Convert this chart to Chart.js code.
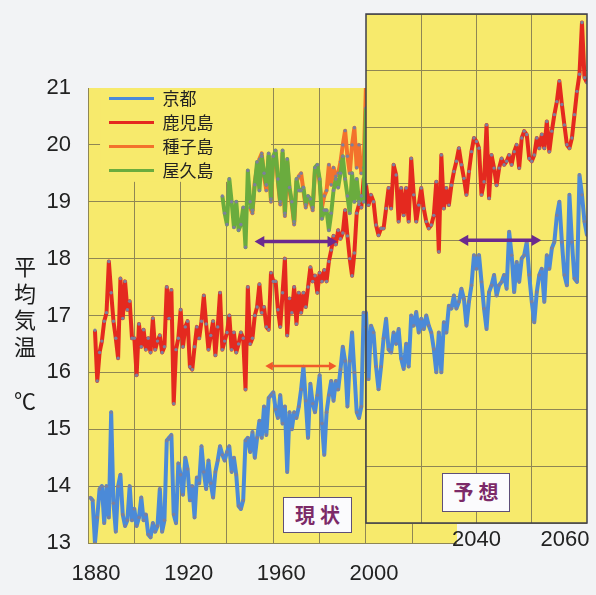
<!DOCTYPE html>
<html lang="ja">
<head>
<meta charset="utf-8">
<title>平均気温の推移</title>
<script src="https://cdn.jsdelivr.net/npm/chart.js@4.4.1/dist/chart.umd.min.js"></script>
<style>
  html, body { margin: 0; padding: 0; background: #f2f3f5; }
  #page { position: relative; width: 596px; height: 595px; overflow: hidden; font-family: 'Noto Sans CJK JP', sans-serif; }
  canvas { position: absolute; left: 0; top: 0; }
  .axis-title { position: absolute; left: 12px; width: 26px; text-align: center; font-size: 22px; line-height: 26.5px; color: #1c1c1c; }
  .tag { position: absolute; box-sizing: border-box; background: #fbfbfd; border: 1.5px solid #5e4f78; color: #7c2a68; font-size: 20px; font-weight: bold; text-align: center; letter-spacing: 5px; padding-left: 5px; }
</style>
</head>
<body>
<div id="page">
  <canvas id="past" width="596" height="595"></canvas>
  <canvas id="future" width="596" height="595"></canvas>
  <div class="axis-title" style="top:252px">平<br>均<br>気<br>温</div>
  <div class="axis-title" style="top:386px">℃</div>
  <div class="tag" style="left:283px;top:497px;width:69px;height:36px;line-height:33px">現状</div>
  <div class="tag" style="left:442px;top:473px;width:68px;height:39px;line-height:36px">予想</div>
</div>
<script>
// observed annual means (left panel), first year of each series
const kyotoStart = 1881;
const kagoshimaStart = 1883;
const tanegashimaStart = 1950;
const yakushimaStart = 1938;

const kyoto = [
  13.8, 13.75, 13.0, 13.45, 13.95, 14.0, 13.35, 14.0, 13.45, 15.3,
  13.7, 13.2, 14.0, 14.2, 13.5, 13.3, 13.4, 14.0, 13.4, 13.6,
  13.3, 13.45, 13.8, 13.4, 13.5, 13.15, 13.1, 13.35, 13.2, 13.3,
  13.95, 13.2, 13.4, 14.8, 14.85, 14.9, 13.5, 13.35, 14.4,
  14.2, 13.85, 14.5, 14.3, 13.75, 14.0, 13.45, 14.15, 14.05, 14.7,
  14.25, 13.95, 14.45, 14.05, 13.8, 14.25, 14.45, 14.7, 14.55, 14.45,
  14.6, 14.7, 14.25, 14.5, 14.2, 13.65, 13.6, 13.75, 14.8, 14.85,
  14.6, 14.95, 14.5, 14.85, 15.15, 14.85, 15.4, 14.9, 15.55, 15.6,
  15.65, 15.35, 15.2, 15.6, 15.1, 15.4, 14.25, 15.3, 15.0, 15.3,
  15.2, 15.4, 15.7, 16.1, 15.5, 14.85, 15.8, 15.45, 15.3, 15.6,
  15.95, 15.1, 14.55, 15.3, 15.6, 15.85, 15.5, 15.85, 15.7, 16.05,
  16.45, 16.2, 15.4, 16.2, 16.7, 16.0, 15.3, 15.2, 15.4, 17.05, 16.8
];

const kagoshima = [
  16.74, 15.85, 16.35, 16.55, 16.9, 17.05, 17.95, 17.4, 16.9, 16.6,
  16.25, 17.65, 16.95, 17.6, 17.1, 17.25, 16.6, 16.6, 15.95, 16.85,
  16.45, 16.75, 16.4, 16.6, 16.35, 16.95, 16.4, 16.55, 16.65, 16.35,
  16.45, 17.5, 16.95, 17.45, 15.45, 16.4, 16.6,
  17.1, 16.45, 16.8, 16.9, 16.1, 16.05, 16.45, 16.8, 16.6, 16.9,
  17.35, 16.85, 16.4, 16.65, 16.9, 16.3, 16.8, 17.4, 16.4, 16.55,
  16.7, 17.0, 16.4, 16.7, 16.35, 16.5, 16.7, 16.6, 15.7, 17.5,
  16.5, 16.6, 17.0, 17.15, 17.55, 17.05, 17.15, 16.8, 16.75, 17.75,
  17.6, 17.6, 17.1, 16.8, 17.4, 18.0, 16.65, 17.3, 17.05, 17.5,
  16.85, 17.4, 17.05, 17.4, 17.15, 17.5, 17.85, 17.6, 17.7, 17.4,
  17.75, 17.6, 17.8, 17.6, 17.95, 18.15, 18.4, 18.25, 18.5, 18.35,
  18.45, 18.85, 18.4, 18.0, 17.7, 18.1, 18.8, 18.95, 18.9, 19.4, 19.35
];

const tanegashima = [
  18.9, 18.8, 19.35, 19.6, 19.75, 19.85, 19.45, 19.2, 19.8, 19.0,
  19.75, 19.85, 19.35, 18.95, 19.85, 18.75, 19.7, 19.2, 18.95, 18.6,
  19.35, 19.45, 19.5, 19.2, 18.9, 19.05, 19.0, 18.85, 19.55, 19.6,
  19.35, 18.9, 19.1, 19.2, 19.65, 19.3, 19.6, 19.45, 19.5, 19.7,
  20.0, 20.25, 19.8, 19.5, 20.0, 20.3, 19.6, 20.0, 19.5, 19.6, 21.05
];

const yakushima = [
  19.1, 18.8, 18.6, 19.4, 19.0, 18.55, 19.0, 18.5, 18.6, 18.9,
  18.2, 19.55, 19.0, 18.85, 19.3, 19.7, 19.2, 19.8, 19.5, 19.3,
  19.85, 19.05, 19.8, 19.9, 19.4, 19.0, 19.9, 18.8, 19.75, 19.25,
  19.0, 18.65, 19.4, 19.2, 19.2, 19.25, 18.95, 19.1, 19.05, 18.9,
  19.6, 19.65, 19.4, 18.7, 18.85, 18.85, 18.5, 18.8, 19.2, 19.4,
  19.25, 19.5, 19.8, 19.4, 19.1, 18.8, 19.5, 19.0, 19.4, 19.0,
  19.1, 19.0, 20.65
];

// projection (right panel), evenly spaced from first to last year
const futureFirstYear = 2015;
const futureLastYear = 2065;

const futureKyoto = [
  17.06, 15.88, 16.82, 16.7, 16.1, 15.7, 16.1, 16.6, 16.94, 16.4,
  16.35, 16.7, 16.5, 16.76, 16.24, 16.06, 16.5, 16.1, 17.0, 16.82,
  17.06, 16.7, 16.94, 16.76, 17.0, 16.82, 16.7, 16.41, 16.0, 16.7,
  16.0, 16.88, 16.7, 17.17, 17.12, 17.35, 17.12, 17.24, 17.47, 17.29,
  16.82, 17.24, 17.53, 18.06, 17.82, 18.06, 17.59, 17.12, 16.76, 17.41,
  17.53, 17.71, 17.35, 17.53, 17.59, 17.71, 17.47, 18.47, 18.06, 17.41,
  17.94, 17.59, 18.0, 18.06, 18.29, 17.71, 17.24, 16.88, 17.41, 17.71,
  17.82, 17.24, 18.06, 17.82, 18.18, 18.29, 18.76, 19.0, 18.29, 17.71,
  17.53, 19.12, 18.29, 17.65, 17.59, 19.47, 19.12, 18.65, 18.41
];

const futureKagoshima = [
  19.3, 18.94, 19.12, 19.0, 18.59, 18.41, 18.53, 18.53, 18.88, 19.24,
  18.88, 19.65, 19.47, 18.65, 19.24, 18.76, 19.24, 18.65, 19.76, 19.12,
  18.65, 18.94, 19.24, 18.88, 18.65, 18.53, 18.59, 18.76, 19.35, 18.12,
  19.82, 18.88, 19.24, 18.94, 19.29, 19.53, 19.71, 19.94, 19.65, 19.41,
  19.12, 19.53, 19.88, 20.12, 20.06, 19.94, 19.12, 19.35, 20.35, 19.06,
  19.82, 19.59, 19.29, 19.59, 19.76, 19.65, 19.71, 19.82, 19.65, 19.88,
  20.0, 19.59, 20.12, 20.24, 20.18, 19.76, 19.71, 19.82, 20.12, 19.94,
  20.18, 19.94, 20.41, 19.88, 20.24, 20.53, 20.76, 21.12, 20.71, 20.35,
  20.0, 19.94, 20.12, 20.53, 20.94, 21.24, 22.15, 21.18, 21.09
];

const seriesNames = ['京都', '鹿児島', '種子島', '屋久島'];
const seriesColors = ['#4b8ad8', '#e4291f', '#f3722c', '#6aac3e'];

// axis ticks
const pastXTicks = [1880, 1920, 1960, 2000];
const futureXTicks = [2040, 2060];
const futureGridYears = [2027.5, 2040, 2052.5];

// comparison periods shown with double arrows
const nowSpan = [1954.7, 1984.8];
const nowLevel = 18.3;
const nowSpanKyoto = [1958.7, 1985.1];
const nowLevelKyoto = 16.11;
const laterSpan = [2037.4, 2053.2];
const laterLevel = 18.32;

const panelYellow = '#f7ea6c';
const gridColor = '#8f8654';
const purple = '#6b2a8e';
const tickFont = { family: "'Liberation Sans Narrow', 'Liberation Sans', Arial, sans-serif", size: 22 };

const toPoints = (values, first, step) => values.map((y, i) => ({ x: first + i * step, y }));

function lineSet(label, color, data, order) {
  return {
    label, data, order,
    borderColor: color,
    backgroundColor: color,
    borderWidth: 4,
    borderJoinStyle: 'round',
    tension: 0,
    pointRadius: 1.7,
    pointBorderWidth: 0,
    pointBackgroundColor: '#7d7f9c'
  };
}

function arrowSet(span, level, color, width, head) {
  return {
    label: '',
    data: span.map(x => ({ x, y: level })),
    order: -1,
    borderColor: color,
    backgroundColor: color,
    borderWidth: width,
    pointStyle: 'triangle',
    pointRotation: [270, 90],
    pointRadius: head,
    pointBorderWidth: 0,
    pointBackgroundColor: color
  };
}

const panelFill = {
  id: 'panelFill',
  beforeDraw(chart) {
    const { ctx, chartArea: a } = chart;
    ctx.save();
    ctx.fillStyle = panelYellow;
    ctx.fillRect(a.left, a.top, a.width, a.height);
    ctx.restore();
  }
};

// legend sits inside the plot on a clear patch without grid lines
const legendPatch = {
  id: 'legendPatch',
  afterLayout(chart) {
    const a = chart.chartArea;
    chart.legend.left = a.left + 14;
    chart.legend.top = a.top - 5;
    chart.legend.right = a.right;
    chart.legend.bottom = a.bottom;
  },
  beforeDatasetsDraw(chart) {
    const { ctx, scales: { x, y } } = chart;
    const left = x.getPixelForValue(1885.2);
    const right = x.getPixelForValue(1959);
    ctx.save();
    ctx.fillStyle = panelYellow;
    ctx.fillRect(left, y.top, right - left, y.getPixelForValue(19.35) - y.top);
    ctx.restore();
    chart.legend.draw();
  }
};

const panelFrame = {
  id: 'panelFrame',
  afterDraw(chart) {
    const { ctx, chartArea: a } = chart;
    ctx.save();
    ctx.strokeStyle = '#3f3f4a';
    ctx.lineWidth = 1.5;
    ctx.strokeRect(a.left, a.top, a.width, a.height);
    ctx.restore();
  }
};

new Chart(document.getElementById('past'), {
  type: 'line',
  data: {
    datasets: [
      lineSet(seriesNames[0], seriesColors[0], toPoints(kyoto, kyotoStart, 1), 3),
      lineSet(seriesNames[1], seriesColors[1], toPoints(kagoshima, kagoshimaStart, 1), 2),
      lineSet(seriesNames[2], seriesColors[2], toPoints(tanegashima, tanegashimaStart, 1), 1),
      lineSet(seriesNames[3], seriesColors[3], toPoints(yakushima, yakushimaStart, 1), 0),
      arrowSet(nowSpan, nowLevel, purple, 3.5, 6.5),
      arrowSet(nowSpanKyoto, nowLevelKyoto, '#f05a2a', 2.5, 5)
    ]
  },
  options: {
    responsive: false,
    animation: false,
    events: [],
    layout: { padding: { left: 0, top: 88, right: 139, bottom: 0 } },
    scales: {
      x: {
        type: 'linear',
        min: 1880,
        max: 2039.3,
        afterFit: s => { s.height = 52; },
        border: { display: false },
        grid: {
          drawTicks: false,
          color: c => c.tick && c.tick.value % 20 === 0 ? gridColor : 'transparent'
        },
        ticks: {
          stepSize: 20,
          includeBounds: false,
          autoSkip: false,
          maxRotation: 0,
          padding: 18,
          labelOffset: 8,
          color: '#222',
          font: tickFont,
          callback: v => pastXTicks.includes(v) ? String(v) : ''
        }
      },
      y: {
        min: 13,
        max: 21,
        afterFit: s => { s.width = 88; },
        border: { display: false },
        grid: {
          drawTicks: false,
          color: c => c.tick && c.tick.value === 21 ? 'transparent' : gridColor
        },
        ticks: { stepSize: 1, padding: 17, color: '#222', font: tickFont }
      }
    },
    plugins: {
      tooltip: { enabled: false },
      legend: {
        position: 'chartArea',
        align: 'start',
        labels: {
          usePointStyle: true,
          pointStyleWidth: 45,
          padding: 7,
          color: '#222',
          font: { family: "'Noto Sans CJK JP', sans-serif", size: 17 },
          generateLabels: () => seriesNames.map((text, i) => ({
            text,
            datasetIndex: i,
            hidden: false,
            pointStyle: 'line',
            lineWidth: 3,
            strokeStyle: seriesColors[i],
            fillStyle: seriesColors[i],
            fontColor: '#222'
          }))
        }
      }
    }
  },
  plugins: [panelFill, legendPatch]
});

const futureStep = (futureLastYear - futureFirstYear) / (futureKagoshima.length - 1);

new Chart(document.getElementById('future'), {
  type: 'line',
  data: {
    datasets: [
      lineSet(seriesNames[0], seriesColors[0], toPoints(futureKyoto, futureFirstYear, futureStep), 1),
      lineSet(seriesNames[1], seriesColors[1], toPoints(futureKagoshima, futureFirstYear, futureStep), 0),
      arrowSet(laterSpan, laterLevel, purple, 3.5, 6.5)
    ]
  },
  options: {
    responsive: false,
    animation: false,
    events: [],
    layout: { padding: { left: 366, top: 14, right: 9, bottom: 0 } },
    scales: {
      x: {
        type: 'linear',
        min: futureFirstYear,
        max: futureLastYear,
        afterFit: s => { s.height = 72; },
        afterBuildTicks: s => {
          s.ticks = futureGridYears.concat(futureXTicks.filter(v => !futureGridYears.includes(v))).map(value => ({ value }));
        },
        border: { display: false },
        grid: {
          drawTicks: false,
          color: c => c.tick && futureGridYears.includes(c.tick.value) ? gridColor : 'transparent'
        },
        ticks: {
          autoSkip: false,
          maxRotation: 0,
          padding: 4,
          color: '#222',
          font: tickFont,
          callback: v => futureXTicks.includes(v) ? String(v) : ''
        }
      },
      y: {
        min: 13.35,
        max: 22.3,
        afterFit: s => { s.width = 0; },
        afterBuildTicks: s => {
          s.ticks = Array.from({ length: 10 }, (_, k) => ({ value: s.min + k * (s.max - s.min) / 9 }));
        },
        border: { display: false },
        grid: { drawTicks: false, color: gridColor },
        ticks: { display: false }
      }
    },
    plugins: {
      tooltip: { enabled: false },
      legend: { display: false }
    }
  },
  plugins: [panelFill, panelFrame]
});
</script>
</body>
</html>
